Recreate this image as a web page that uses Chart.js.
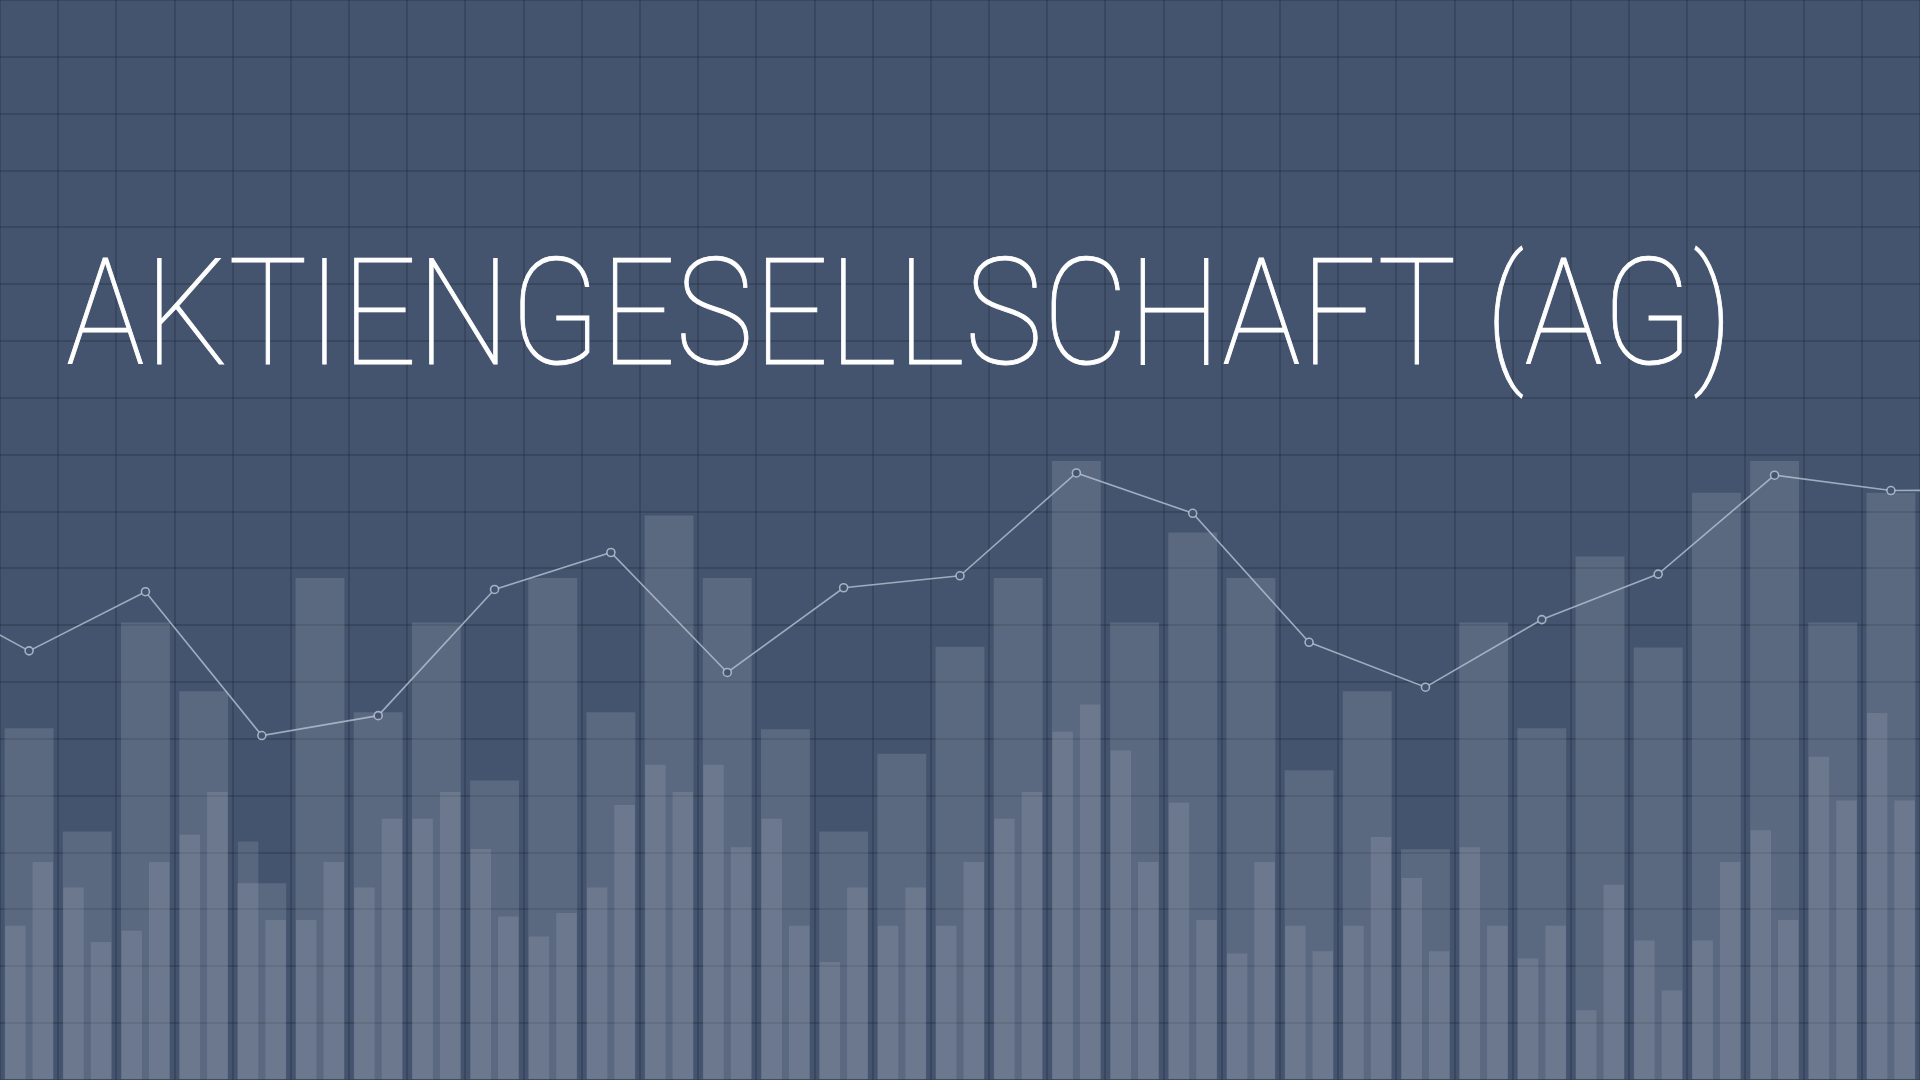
<!DOCTYPE html>
<html>
<head>
<meta charset="utf-8">
<script src="https://cdn.jsdelivr.net/npm/chart.js@4.4.1/dist/chart.umd.min.js"></script>
<style>
  html, body { margin: 0; padding: 0; background: #44546f; overflow: hidden; }
  #wrap { position: relative; width: 1920px; height: 1080px; }
  #chart { position: absolute; left: 0; top: 0; }
  #title {
    position: absolute; left: 66px; top: 240px;
    margin: 0; color: #ffffff; white-space: nowrap;
    font-family: Roboto, "Open Sans", sans-serif; font-weight: 100;
    font-size: 148px; line-height: 1; transform-origin: 0 0;
    -webkit-text-stroke: 0.9px #ffffff;
  }
</style>
</head>
<body>
<div id="wrap">
  <canvas id="chart" width="1920" height="1080"></canvas>
  <h1 id="title">AKTIENGESELLSCHAFT (AG)</h1>
</div>
<script>
// 33 columns across the picture
const categories = ['1','2','3','4','5','6','7','8','9','10','11','12','13','14','15','16','17',
                    '18','19','20','21','22','23','24','25','26','27','28','29','30','31','32','33'];

// wide background bars
const wideBars = [61.9, 43.7, 80.5, 68.4, 34.6, 88.3, 64.7, 80.5, 52.7, 88.3, 64.7, 99.3, 88.3,
                  61.7, 43.7, 57.4, 76.2, 88.3, 108.9, 80.5, 96.3, 88.3, 54.5, 68.4, 40.6, 80.5,
                  61.9, 92.1, 76.1, 103.3, 108.9, 80.5, 103.3];

// thin bars, left and right pair inside each column
const thinLeft = [27.1, 33.8, 26.2, 43.1, 41.9, 28.1, 33.8, 45.9, 40.6, 25.2, 33.8, 55.4, 55.4,
                  45.9, 20.7, 27.1, 27.1, 45.9, 61.2, 57.9, 48.7, 22.2, 27.1, 27.1, 35.5, 40.9,
                  21.3, 12.2, 24.5, 24.5, 43.9, 56.8, 64.5];
const thinRight = [38.3, 24.2, 38.3, 50.6, 28.1, 38.3, 45.9, 50.6, 28.7, 29.3, 48.3, 50.6, 40.9,
                   27.1, 33.8, 33.8, 38.3, 50.6, 66.0, 38.3, 28.1, 38.3, 22.6, 42.7, 22.6, 27.1,
                   27.1, 34.3, 15.7, 38.3, 28.1, 49.1, 49.1];

// line: one point every second column, starting one step left of the picture
const lineStart = -2;
const lineValues = [86.6, 75.5, 85.9, 60.6, 64.1, 86.3, 92.8, 71.7, 86.6, 88.7, 106.8, 99.7,
                    77.0, 69.1, 81.0, 89.0, 106.4, 103.7, 103.8];

const yMax = 190;
const yStep = 10;

const bg = '#44546f';
const gridColor = 'rgba(0, 0, 0, 0.15)';

const linePoints = lineValues.map((v, i) => ({ x: lineStart + i * 2, y: v }));

// thin bar slot = half of the wide bar area
const colWidth = 1920 / categories.length;
const thinSlot = colWidth * 0.945 / 2;

const ctx = document.getElementById('chart').getContext('2d');
new Chart(ctx, {
    data: {
        labels: categories,
        datasets: [
            {
                type: 'line',
                data: linePoints,
                xAxisID: 'xl',
                borderColor: 'rgba(190, 200, 216, 0.75)',
                borderWidth: 1.6,
                tension: 0,
                pointRadius: 4,
                pointBorderWidth: 1.6,
                pointBorderColor: 'rgba(190, 200, 216, 0.8)',
                pointBackgroundColor: bg,
                order: 0
            },
            {
                type: 'bar',
                data: thinLeft,
                backgroundColor: 'rgba(255, 255, 255, 0.11)',
                barThickness: thinSlot,
                maxBarThickness: thinSlot * 0.72,
                order: 1
            },
            {
                type: 'bar',
                data: thinRight,
                backgroundColor: 'rgba(255, 255, 255, 0.11)',
                barThickness: thinSlot,
                maxBarThickness: thinSlot * 0.72,
                order: 1
            },
            {
                type: 'bar',
                data: wideBars,
                grouped: false,
                backgroundColor: 'rgba(255, 255, 255, 0.12)',
                categoryPercentage: 1,
                barPercentage: 0.84,
                order: 2
            }
        ]
    },
    options: {
        responsive: false,
        animation: false,
        devicePixelRatio: 1,
        layout: { padding: 0, autoPadding: false },
        plugins: { legend: { display: false }, tooltip: { enabled: false } },
        scales: {
            x: {
                type: 'category',
                offset: true,
                grid: { color: gridColor, lineWidth: 2, offset: true, drawTicks: false },
                border: { display: false },
                ticks: { display: false },
                afterFit: (scale) => { scale.height = 0; scale.paddingLeft = 0; scale.paddingRight = 0; }
            },
            xl: { type: 'linear', min: -0.5, max: categories.length - 0.5, display: false },
            y: {
                min: 0,
                max: yMax,
                grid: { color: gridColor, lineWidth: 2, drawTicks: false },
                border: { display: false },
                ticks: { display: false, stepSize: yStep },
                afterFit: (scale) => { scale.width = 0; scale.paddingTop = 0; scale.paddingBottom = 0; }
            }
        }
    }
});

// stretch the title to the width it has in the picture
const title = document.getElementById('title');
const w = title.getBoundingClientRect().width;
title.style.transform = 'scaleX(' + (1667 / w) + ')';
</script>
</body>
</html>
